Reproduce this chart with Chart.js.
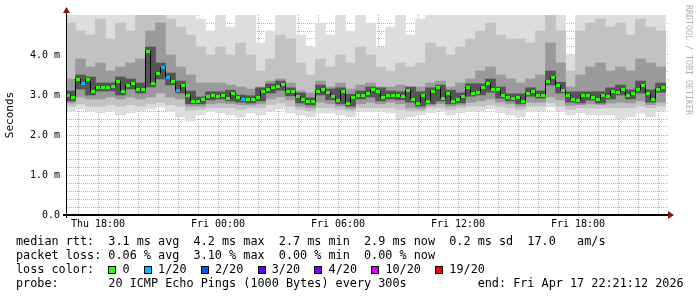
<!DOCTYPE html>
<html>
<head>
<meta charset="utf-8">
<script src="https://cdn.jsdelivr.net/npm/chart.js@4.4.1/dist/chart.umd.min.js"></script>
<style>
  html, body { margin: 0; padding: 0; background: #fff; }
  #wrap { position: relative; width: 697px; height: 297px; overflow: hidden; }
  #legend {
    position: absolute; left: 16px; top: 233.6px;
    font-family: 'DejaVu Sans Mono', monospace; font-size: 11.8px; line-height: 14.2px;
    white-space: pre; color: #000;
  }
  .sq { display: inline-block; width: 6px; height: 6px; border: 1px solid #000;
        margin-right: calc(1ch - 8px); vertical-align: -1px; }
</style>
</head>
<body>
<div id="wrap">
  <canvas id="chart" width="697" height="297"></canvas>
  <div id="legend"></div>
</div>
<script>
// x axis: hours since Thu 00:00 (Thu 18:00 = 18, Fri 00:00 = 24, ...)
const xTickHours  = [18, 24, 30, 36, 42];
const xTickLabels = ['Thu 18:00', 'Fri 00:00', 'Fri 06:00', 'Fri 12:00', 'Fri 18:00'];
const yTickValues = [0, 1, 2, 3, 4];
const yTickLabels = ['0.0', '1.0 m', '2.0 m', '3.0 m', '4.0 m'];

// median rtt (ms), one value per 15 min starting Thu 16:30
const medianRtt = [
  3.0, 2.93, 3.4, 3.28, 3.38, 3.08, 3.2, 3.2, 3.2, 3.22,
  3.35, 3.1, 3.25, 3.3, 3.15, 3.13, 4.1, 3.3, 3.55, 3.7,
  3.45, 3.35, 3.12, 3.25, 3.0, 2.85, 2.85, 2.88, 2.97, 2.98,
  2.97, 3.0, 2.92, 3.05, 2.93, 2.9, 2.88, 2.9, 2.93, 3.1,
  3.15, 3.2, 3.22, 3.27, 3.08, 3.08, 2.97, 2.88, 2.83, 2.85,
  3.1, 3.15, 3.07, 2.97, 2.86, 3.1, 2.8, 2.95, 3.0, 3.0,
  3.05, 3.13, 3.1, 2.93, 3.0, 3.0, 3.0, 2.97, 3.12, 2.9,
  2.8, 3.0, 2.85, 3.1, 3.18, 2.92, 3.05, 2.85, 2.88, 2.97,
  3.2, 3.05, 3.07, 3.2, 3.3, 3.15, 3.13, 3.0, 2.95, 2.92,
  2.95, 2.85, 3.05, 3.1, 3.0, 3.0, 3.35, 3.45, 3.24, 3.12,
  3.0, 2.9, 2.87, 3.0, 3.0, 2.95, 2.88, 3.0, 2.97, 3.1,
  3.07, 3.15, 2.98, 3.05, 3.13, 3.25, 3.05, 2.9, 3.15, 3.2
];
// lost pings out of 20 for each median sample
const lossCount = [
  0, 0, 0, 1, 0, 0, 0, 0, 0, 0,
  0, 0, 0, 0, 0, 0, 0, 0, 0, 1,
  1, 0, 1, 0, 0, 0, 0, 0, 0, 0,
  0, 0, 0, 0, 0, 1, 0, 0, 0, 0,
  0, 0, 0, 0, 0, 0, 0, 0, 0, 0,
  0, 0, 0, 0, 0, 0, 0, 0, 0, 0,
  0, 0, 0, 0, 0, 0, 0, 0, 0, 0,
  0, 0, 0, 0, 0, 0, 0, 0, 0, 0,
  0, 0, 0, 0, 0, 0, 0, 0, 0, 0,
  0, 0, 0, 0, 0, 0, 0, 0, 0, 0,
  0, 0, 0, 0, 0, 0, 0, 0, 0, 0,
  0, 0, 0, 0, 0, 0, 0, 0, 0, 0
];

// smoke (spread of the 20 pings), one value per 30 min
const smokeMax = [
  5.0, 5.0, 5.0, 5.0, 5.0, 5.0, 5.0, 5.0, 5.0, 5.0,
  5.0, 5.0, 5.0, 4.9, 4.6, 5.0, 4.7, 5.0, 5.0, 4.3,
  4.6, 5.0, 5.0, 4.5, 4.2, 4.8, 4.5, 5.0, 4.6, 5.0,
  4.8, 4.2, 4.7, 5.0, 4.5, 4.9, 5.0, 5.0, 5.0, 5.0,
  5.0, 5.0, 5.0, 5.0, 5.0, 5.0, 5.0, 5.0, 5.0, 5.0,
  4.0, 5.0, 5.0, 5.0, 5.0, 5.0, 5.0, 5.0, 5.0, 5.0
];
const smokeHi2 = [
  4.8, 4.6, 4.5, 4.9, 4.4, 4.8, 4.6, 5.0, 5.0, 5.0,
  4.9, 4.7, 4.5, 4.2, 4.0, 4.2, 4.0, 4.3, 4.0, 3.6,
  3.9, 4.5, 4.4, 3.8, 3.5, 3.9, 3.7, 4.0, 3.8, 4.2,
  4.0, 3.7, 3.6, 3.8, 3.7, 3.8, 4.3, 4.2, 4.0, 4.2,
  4.4, 4.6, 4.8, 4.5, 4.4, 4.4, 4.3, 4.6, 5.0, 4.6,
  3.6, 4.6, 4.8, 4.9, 4.7, 4.8, 4.5, 4.9, 4.7, 4.6
];
const smokeHi3 = [
  3.4, 3.9, 3.7, 3.8, 3.6, 3.7, 3.8, 3.9, 4.6, 4.8,
  4.0, 3.7, 3.5, 3.3, 3.3, 3.3, 3.25, 3.2, 3.15, 3.2,
  3.35, 3.4, 3.3, 3.1, 3.05, 3.35, 3.2, 3.3, 3.15, 3.25,
  3.3, 3.2, 3.2, 3.25, 3.2, 3.2, 3.3, 3.35, 3.2, 3.3,
  3.4, 3.6, 3.7, 3.5, 3.4, 3.3, 3.4, 3.5, 4.3, 3.8,
  3.2, 3.5, 3.7, 3.8, 3.6, 3.7, 3.6, 3.9, 3.8, 3.7
];
const smokeHi4 = [
  3.1, 3.5, 3.45, 3.3, 3.3, 3.45, 3.4, 3.3, 4.2, 3.8,
  3.55, 3.35, 3.1, 2.95, 3.08, 3.08, 3.12, 3.0, 2.98, 3.18,
  3.28, 3.35, 3.18, 3.05, 2.93, 3.25, 3.15, 3.18, 3.02, 3.1,
  3.2, 3.18, 3.1, 3.08, 3.2, 3.08, 3.18, 3.25, 3.12, 3.05,
  3.28, 3.28, 3.4, 3.2, 3.03, 3.03, 3.18, 3.1, 3.6, 3.32,
  3.08, 3.08, 3.08, 3.08, 3.18, 3.25, 3.13, 3.35, 3.13, 3.3
];
const smokeLo4 = [
  2.85, 3.15, 3.0, 3.1, 3.1, 3.0, 3.15, 3.05, 3.2, 3.4,
  3.25, 3.05, 2.78, 2.78, 2.88, 2.9, 2.85, 2.82, 2.8, 2.85,
  3.05, 3.12, 2.98, 2.8, 2.75, 3.0, 2.88, 2.78, 2.72, 2.9,
  2.95, 2.85, 2.9, 2.88, 2.82, 2.72, 2.78, 2.85, 2.78, 2.8,
  2.97, 3.0, 3.07, 2.92, 2.85, 2.78, 2.97, 2.92, 3.25, 3.05,
  2.82, 2.8, 2.87, 2.8, 2.9, 3.0, 2.9, 3.05, 2.82, 3.07
];
const smokeLo3 = [
  2.8, 2.95, 2.9, 2.9, 2.95, 2.9, 2.95, 2.9, 2.95, 3.05,
  2.95, 2.9, 2.72, 2.72, 2.78, 2.8, 2.78, 2.76, 2.75, 2.78,
  2.9, 2.95, 2.88, 2.72, 2.68, 2.82, 2.78, 2.72, 2.66, 2.78,
  2.82, 2.78, 2.82, 2.78, 2.68, 2.66, 2.74, 2.78, 2.72, 2.75,
  2.82, 2.86, 2.9, 2.82, 2.78, 2.72, 2.82, 2.82, 2.95, 2.88,
  2.74, 2.76, 2.78, 2.76, 2.8, 2.82, 2.8, 2.85, 2.76, 2.82
];
const smokeLo2 = [
  2.72, 2.78, 2.72, 2.72, 2.76, 2.72, 2.76, 2.72, 2.78, 2.82,
  2.76, 2.72, 2.62, 2.64, 2.68, 2.68, 2.68, 2.64, 2.68, 2.68,
  2.76, 2.8, 2.72, 2.64, 2.6, 2.68, 2.68, 2.64, 2.6, 2.68,
  2.68, 2.68, 2.68, 2.64, 2.6, 2.6, 2.68, 2.68, 2.64, 2.68,
  2.72, 2.72, 2.76, 2.72, 2.68, 2.64, 2.72, 2.72, 2.8, 2.72,
  2.64, 2.68, 2.68, 2.68, 2.68, 2.68, 2.68, 2.72, 2.68, 2.72
];
const smokeMin = [
  2.6, 2.65, 2.6, 2.55, 2.6, 2.5, 2.55, 2.6, 2.65, 2.7,
  2.6, 2.45, 2.35, 2.5, 2.6, 2.55, 2.5, 2.45, 2.55, 2.5,
  2.6, 2.65, 2.55, 2.5, 2.45, 2.55, 2.55, 2.5, 2.45, 2.6,
  2.6, 2.6, 2.55, 2.4, 2.45, 2.5, 2.55, 2.6, 2.5, 2.55,
  2.6, 2.6, 2.65, 2.55, 2.5, 2.45, 2.6, 2.6, 2.7, 2.6,
  2.5, 2.55, 2.5, 2.5, 2.5, 2.4, 2.45, 2.55, 2.45, 2.6
];

const lossSteps  = [0, 1, 2, 3, 4, 10, 19];
const lossLabels = ['0', '1/20', '2/20', '3/20', '4/20', '10/20', '19/20'];
const lossColors = ['#26ff00', '#00b8ff', '#0059ff', '#5e00ff', '#7e00ff', '#dd00ff', '#ff0000'];

const legendLines = [
  'median rtt:  3.1 ms avg  4.2 ms max  2.7 ms min  2.9 ms now  0.2 ms sd  17.0   am/s',
  'packet loss: 0.06 % avg  3.10 % max  0.00 % min  0.00 % now',
  null,
  'probe:       20 ICMP Echo Pings (1000 Bytes) every 300s          end: Fri Apr 17 22:21:12 2026'
];

const FONT = "'DejaVu Sans Mono', monospace";
const MEDIAN_START = 16.5, MEDIAN_STEP = 0.25;
const SMOKE_START = 16.625, SMOKE_STEP = 0.5;
const medianTimes = medianRtt.map((_, i) => MEDIAN_START + i * MEDIAN_STEP);
const smokeTimes  = smokeMax.map((_, j) => SMOKE_START + j * SMOKE_STEP);
const gridHours = [];
for (let h = 17; h <= 46; h++) gridHours.push(h);
const yGrid = [];
for (let k = 0; k <= 25; k++) yGrid.push(k / 5);

const MGRID = 'rgba(230,110,110,0.75)';
const GRID  = 'rgba(165,165,165,0.8)';

// legend below the graph
const legendEl = document.getElementById('legend');
const lossLine = 'loss color:  ' + lossLabels.map((l, k) =>
  `<span class="sq" style="background:${lossColors[k]}"></span> ${l}`).join('  ');
legendEl.innerHTML = legendLines.map(l => l === null ? lossLine : l).join('\n');

// small marks for the median, coloured by loss
function lossColor(n) {
  let c = lossColors[0];
  lossSteps.forEach((s, k) => { if (n >= s) c = lossColors[k]; });
  return c;
}
const markCache = {};
function mark(color) {
  if (!markCache[color]) {
    const c = document.createElement('canvas');
    c.width = 4; c.height = 3;
    const g = c.getContext('2d');
    g.fillStyle = color;
    g.fillRect(0, 0, 4, 3);
    markCache[color] = c;
  }
  return markCache[color];
}

function band(lo, hi, color, order) {
  return {
    type: 'bar',
    data: lo.map((v, j) => ({ x: smokeTimes[j], y: [v, hi[j]] })),
    backgroundColor: color,
    borderWidth: 0,
    barThickness: 10,
    grouped: false,
    order: order,
  };
}

const decorations = {
  id: 'decorations',
  afterDraw(chart) {
    const ctx = chart.ctx, a = chart.chartArea;
    ctx.save();
    ctx.fillStyle = '#000';
    ctx.fillRect(a.left - 1, a.top - 3, 1, a.bottom - a.top + 6);
    ctx.fillRect(a.left - 4, a.bottom - 1, a.right - a.left + 6, 2);

    ctx.fillStyle = '#8b1010';
    ctx.beginPath();
    ctx.moveTo(a.left - 4, a.top - 2);
    ctx.lineTo(a.left + 3, a.top - 2);
    ctx.lineTo(a.left - 0.5, a.top - 8);
    ctx.closePath();
    ctx.fill();
    ctx.beginPath();
    ctx.moveTo(a.right, a.bottom - 4);
    ctx.lineTo(a.right, a.bottom + 4);
    ctx.lineTo(a.right + 6, a.bottom);
    ctx.closePath();
    ctx.fill();

    ctx.fillStyle = '#b0b0b0';
    ctx.font = "8.3px 'DejaVu Sans Mono'";
    ctx.textBaseline = 'middle';
    ctx.translate(chart.width - 9, 5);
    ctx.rotate(Math.PI / 2);
    ctx.fillText('RRDTOOL / TOBI OETIKER', 0, 0);
    ctx.restore();
  },
};

new Chart(document.getElementById('chart'), {
  type: 'bar',
  data: {
    datasets: [
      {
        type: 'line',
        data: medianRtt.map((v, i) => ({ x: medianTimes[i], y: v })),
        borderColor: '#000',
        borderWidth: 1,
        stepped: 'middle',
        pointRadius: 2,
        pointStyle: ctx => mark(lossColor(lossCount[ctx.dataIndex] || 0)),
        order: 0,
      },
      band(smokeLo4, smokeHi4, '#555555', 1),
      band(smokeLo3, smokeHi3, '#9a9a9a', 2),
      band(smokeLo2, smokeHi2, '#c2c2c2', 3),
      band(smokeMin, smokeMax, '#dddddd', 4),
    ],
  },
  plugins: [decorations],
  options: {
    responsive: false,
    animation: false,
    devicePixelRatio: 1,
    events: [],
    layout: { padding: { left: 0, top: 15, right: 29, bottom: 0 } },
    plugins: { legend: { display: false }, tooltip: { enabled: false } },
    scales: {
      x: {
        type: 'linear', min: 16.45, max: 46.5, offset: false, z: 1,
        afterBuildTicks: s => { s.ticks = gridHours.map(h => ({ value: h })); },
        afterFit: s => { s.height = 82; },
        grid: {
          offset: false, drawTicks: false, lineWidth: 1,
          color: ctx => (ctx.tick.value % 3 === 0 ? MGRID : GRID),
        },
        border: { display: false, dash: [1, 1] },
        ticks: {
          autoSkip: false, maxRotation: 0, minRotation: 0, padding: 3,
          color: '#000', font: { family: FONT, size: 10 },
          callback: v => { const k = xTickHours.indexOf(v); return k < 0 ? '' : xTickLabels[k]; },
        },
      },
      y: {
        min: 0, max: 5, z: 1,
        afterBuildTicks: s => { s.ticks = yGrid.map(v => ({ value: v })); },
        afterFit: s => { s.width = 67; },
        grid: {
          drawTicks: false, lineWidth: 1,
          color: ctx => {
            const v = ctx.tick.value;
            if (v === 0 || v === 5) return 'rgba(0,0,0,0)';
            return Number.isInteger(v) ? MGRID : GRID;
          },
        },
        border: { display: false, dash: [1, 1] },
        ticks: {
          autoSkip: false, padding: 7, color: '#000', font: { family: FONT, size: 10 },
          callback: v => { const k = yTickValues.indexOf(v); return k < 0 ? '' : yTickLabels[k]; },
        },
        title: {
          display: true, text: 'Seconds', color: '#000',
          font: { family: FONT, size: 11 }, padding: { top: 4, bottom: 0 },
        },
      },
    },
  },
});
</script>
</body>
</html>
